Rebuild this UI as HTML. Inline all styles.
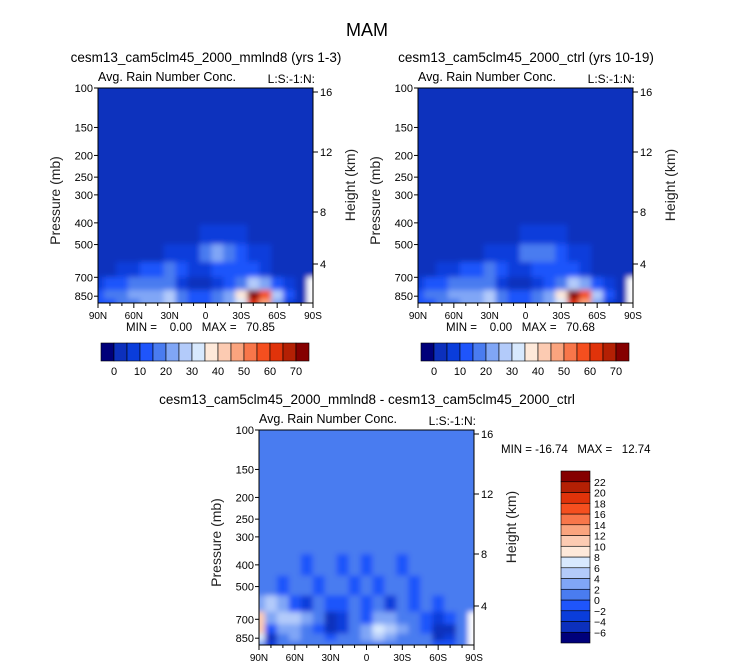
<!DOCTYPE html>
<html><head><meta charset="utf-8"><style>
body{margin:0;background:#fff;}
svg{display:block;font-family:"Liberation Sans",sans-serif;}
</style></head><body>
<svg id="fig" width="733" height="669" viewBox="0 0 733 669">
<defs>
<filter id="bl" x="-5%" y="-5%" width="110%" height="110%"><feGaussianBlur stdDeviation="2.6"/></filter>
<clipPath id="c1"><rect x="98" y="88" width="215" height="215"/></clipPath>
<clipPath id="c2"><rect x="418" y="88" width="215" height="215"/></clipPath>
<clipPath id="c3"><rect x="259" y="430" width="215" height="215"/></clipPath>
</defs>
<text x="367" y="36" font-size="18" text-anchor="middle">MAM</text>
</svg>
<script>
// ---- data ----
const lats = [90,80,70,60,50,40,30,20,10,0,-10,-20,-30,-40,-50,-60,-70,-80,-90];
const levels = [450,550,650,750,850,900];
const panelAValues = [
 [0,0,0,0,0,0,0,0,0,5,8,8,5,0,0,0,0,0,0],
 [0,0,0,0,0,3,5,5,8,15,20,15,10,8,5,0,0,0,0],
 [0,3,5,8,10,12,15,10,6,6,12,12,12,10,8,3,0,0,0],
 [8,10,12,15,15,18,15,8,3,3,8,10,15,25,20,12,5,0,null],
 [12,16,18,20,20,24,29,18,12,12,15,22,35,72,55,25,10,3,null],
 [10,14,16,18,20,24,27,16,12,12,15,20,30,60,45,20,8,0,null]
];
const panelBValues = [
 [0,0,0,0,0,0,0,0,0,5,8,8,5,0,0,0,0,0,0],
 [0,0,0,0,0,3,5,5,8,15,18,15,10,8,5,0,0,0,0],
 [0,3,5,8,10,12,15,10,6,6,12,12,12,10,8,3,0,0,0],
 [8,10,12,15,15,18,15,8,3,3,8,10,15,25,20,12,5,0,null],
 [12,16,18,20,20,24,29,18,12,12,15,22,35,70,55,25,10,3,null],
 [10,14,16,18,20,24,27,16,12,12,15,20,30,60,45,20,8,0,null]
];
const diffLevels = [400,500,600,700,775,850,900];
const diffValues = [
 [1,1,1,1,-1,1,0,-1,1,-1,1,0,-1,1,0,1,1,1,1],
 [1,1,-1,0,1,-1,1,0,-1,1,-1,1,0,-1,1,0,1,1,1],
 [3,4,3,-1,-4,0,-2,-1,1,-1,0,-3,1,-2,1,-2,0,1,1],
 [10,3,5,4,2,0,-6,-4,1,-1,2,3,1,0,-2,-4,-1,1,null],
 [10,-2,2,3,1,-1,-5,-3,1,2,6,5,2,1,-2,-6,-5,0,null],
 [6,-6,0,2,1,0,-2,0,1,2,4,3,1,1,0,-5,-4,0,null],
 [2,-3,0,1,1,0,0,1,1,1,1,1,1,0,0,-1,-2,0,null]
];
const seqBounds = [0,5,10,15,20,25,30,35,40,45,50,55,60,65,70];
const seqTickLabels = ["0","10","20","30","40","50","60","70"];
const diffBounds = [-6,-4,-2,0,2,4,6,8,10,12,14,16,18,20,22];
const pTicks = [100,150,200,250,300,400,500,700,850];
const hTicks = [16,12,8,4];
const latTickLabels = ["90N","60N","30N","0","30S","60S","90S"];
const latTickValues = [90,60,30,0,-30,-60,-90];
const colors = ["#00007a","#0c30bd","#0a3ddb","#1f55fb","#4a7cf0","#80a6f6","#b3cbfa","#d8e9fe","#fee9da","#fccbb2","#faa47e","#f8764a","#f54f1f","#e0330a","#b42004","#850000"];

const svg = document.getElementById('fig');
const NS = 'http://www.w3.org/2000/svg';
function mk(tag, attrs, parent){const e=document.createElementNS(NS,tag);for(const k in attrs)e.setAttribute(k,attrs[k]);(parent||svg).appendChild(e);return e;}
function colorFor(v,b){let i=0;while(i<b.length&&v>=b[i])i++;return colors[i];}

function panel(P){
  const x0=P.x,y0=P.y,W=215,H=215;
  const xs=lat=>x0+(90-lat)/180*W;
  const k=224;
  const ys=p=>y0+Math.log10(p/100)*k;
  const bgc=colorFor(P.bgVal,P.bounds);
  const bg = mk('rect',{x:x0,y:y0,width:W,height:H,fill:bgc});
  
  
  const g = mk('g',{'clip-path':'url(#'+P.clip+')'});
  
  
  const gb = mk('g',{filter:'url(#bl)'},g);
  mk('rect',{x:x0-20,y:y0-20,width:W+40,height:H+40,fill:bgc},gb);
  const L=P.levels;
  for(let r=0;r<L.length;r++){
    const top = r===0? ys(L[0]) - (ys(L[1])-ys(L[0]))/2 : (ys(L[r-1])+ys(L[r]))/2;
    const bot = r===L.length-1? y0+H+20 : (ys(L[r])+ys(L[r+1]))/2;
    for(let c=0;c<lats.length;c++){
      const v=P.values[r][c];
      const xa = xs(lats[c]) - (c===0?20:W/36), xb = xs(lats[c]) + (c===lats.length-1?20:W/36);
      const cell = mk('rect',{x:xa,y:top,width:xb-xa+0.5,height:bot-top+0.5,fill:v===null?'#ffffff':colorFor(v,P.bounds)},gb);
      
      
    }
  }
  const fr = mk('rect',{x:x0,y:y0,width:W,height:H,fill:'none',stroke:'#000','stroke-width':1});
  
  
  pTicks.forEach(p=>{
    const y=ys(p);
    mk('line',{x1:x0-4,y1:y,x2:x0,y2:y,stroke:'#000'});
    const t=mk('text',{x:x0-5,y:y+4,'font-size':11,'text-anchor':'end'});t.textContent=p;
    
    
  });
  const hy={16:4,12:64,8:124,4:176};
  hTicks.forEach(h=>{
    const y=y0+hy[h];
    mk('line',{x1:x0+W,y1:y,x2:x0+W+5,y2:y,stroke:'#000'});
    const t=mk('text',{x:x0+W+7,y:y+4,'font-size':11});t.textContent=h;
    
    
  });
  for(let l=90;l>=-90;l-=10){mk('line',{x1:xs(l),y1:y0+H,x2:xs(l),y2:y0+H+(l%30===0?5:3),stroke:'#000'});}
  latTickValues.forEach((l,i)=>{
    const t=mk('text',{x:xs(l),y:y0+H+16,'font-size':10,'text-anchor':'middle'});t.textContent=latTickLabels[i];
    
    
  });
  let t=mk('text',{x:x0-38,y:y0+H/2+5,'font-size':14,'text-anchor':'middle',fill:'#222',transform:'rotate(-90 '+(x0-38)+' '+(y0+H/2+5)+')'});t.textContent='Pressure (mb)';
  
  
  t=mk('text',{x:x0+W+42,y:y0+97,'font-size':14,'text-anchor':'middle',fill:'#222',transform:'rotate(-90 '+(x0+W+42)+' '+(y0+97)+')'});t.textContent='Height (km)';
  
  
  t=mk('text',{x:x0,y:y0-7,'font-size':12.5});t.textContent='Avg. Rain Number Conc.';
  
  
  t=mk('text',{x:x0+W+2,y:y0-5,'font-size':12,'text-anchor':'end'});t.textContent='L:S:-1:N:';
  
  
  t=mk('text',{x:P.titleX,y:P.titleY,'font-size':13.5,'text-anchor':'middle'});t.textContent=P.title;
  
  
  t=mk('text',{x:P.mmX,y:P.mmY,'font-size':11.5});t.textContent=P.minmax.replace(/ /g,'\u00a0');
  
  
}

panel({x:98,y:88,clip:'c1',name:'panel-mmlnd8',values:panelAValues,levels:levels,bounds:seqBounds,bgVal:0,title:'cesm13_cam5clm45_2000_mmlnd8 (yrs 1-3)',titleX:206,titleY:62,minmax:'MIN =    0.00   MAX =   70.85',mmX:126,mmY:331});
panel({x:418,y:88,clip:'c2',name:'panel-ctrl',values:panelBValues,levels:levels,bounds:seqBounds,bgVal:0,title:'cesm13_cam5clm45_2000_ctrl (yrs 10-19)',titleX:526,titleY:62,minmax:'MIN =    0.00   MAX =   70.68',mmX:446,mmY:331});
panel({x:259,y:430,clip:'c3',name:'panel-difference',values:diffValues,levels:diffLevels,bounds:diffBounds,bgVal:1,title:'cesm13_cam5clm45_2000_mmlnd8 - cesm13_cam5clm45_2000_ctrl',titleX:367,titleY:404,minmax:'MIN = -16.74   MAX =   12.74',mmX:501,mmY:453});

function hbar(x0,name){
  const y0=343,w=208/16,h=18;
  const g=mk('g',{});
  
  
  colors.forEach((c,i)=>{mk('rect',{x:x0+i*w,y:y0,width:w,height:h,fill:c,stroke:'#000','stroke-width':0.6},g);});
  seqTickLabels.forEach((lab,i)=>{
    const t=mk('text',{x:x0+(2*i+1)*w,y:y0+h+14,'font-size':11,'text-anchor':'middle'},g);t.textContent=lab;
    
    
  });
}
hbar(101,'colorbar-mmlnd8');
hbar(421,'colorbar-ctrl');

(function(){
  const x0=561,y0=471,w=29,h=172/16;
  const g=mk('g',{});
  
  
  colors.forEach((c,i)=>{mk('rect',{x:x0,y:y0+(15-i)*h,width:w,height:h,fill:c,stroke:'#000','stroke-width':0.6},g);});
  diffBounds.forEach((b,i)=>{
    const t=mk('text',{x:x0+w+4,y:y0+(15-i)*h+4,'font-size':10.5},g);t.textContent=b<0?'\u2212'+(-b):b;
    
    
  });
})();
</script>
</body></html>
